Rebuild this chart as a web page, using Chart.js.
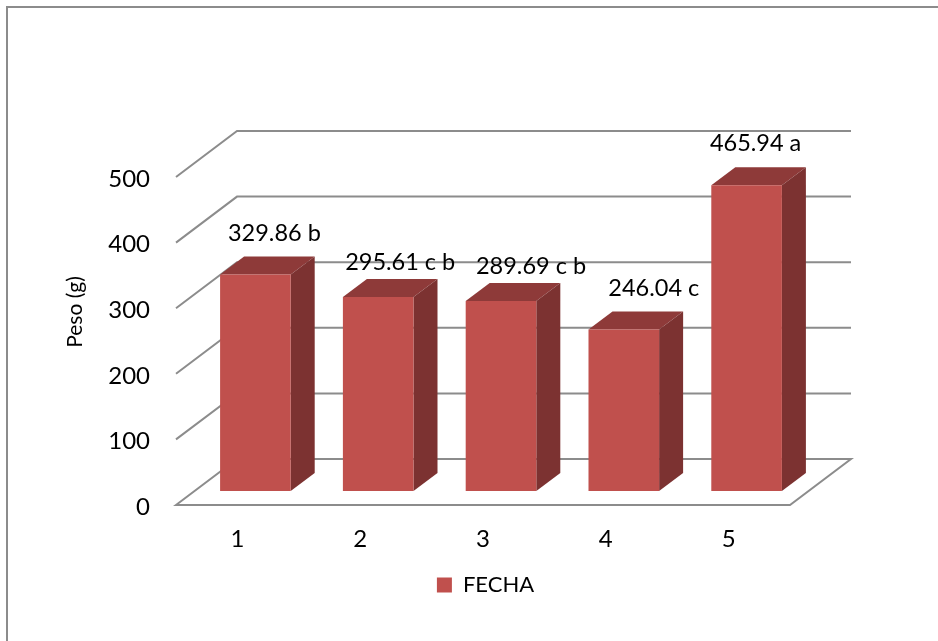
<!DOCTYPE html>
<html>
<head>
<meta charset="utf-8">
<style>
    html, body { margin: 0; padding: 0; background: #fff; overflow: hidden; }
    #frame { position: absolute; left: 6px; top: 6px; width: 960px; height: 660px; border: 2px solid #8c8c8c; }
    #peso-chart { position: absolute; left: 0; top: 0; }
</style>
<script src="https://cdn.jsdelivr.net/npm/chart.js@4/dist/chart.umd.js"></script>
</head>
<body>
<div id="frame"></div>
<canvas id="peso-chart" width="938" height="641"></canvas>
<script>
const categories = ['1', '2', '3', '4', '5'];
const peso = [329.86, 295.61, 289.69, 246.04, 465.94];
const valueLabels = ['329.86 b', '295.61 c b', '289.69 c b', '246.04 c', '465.94 a'];
const yTicks = [0, 100, 200, 300, 400, 500];

const fontFamily = 'Lato';
const gridColor = '#8c8c8c';

// depth of the fake 3d box, seen from the plane the bars stand on
const wallFront = { x: -18, y: 14 };
const wallBack = { x: 43, y: -32 };
const barDepth = { x: 24, y: -18 };

// data labels sit by hand in the original, so each one has its own shift from the bar top
const labelShiftX = [19, 22, 30, 30, 9];
const labelShiftY = [-41, -35, -35, -41, -42];

const box3d = {
    id: 'box3d',
    beforeDatasetsDraw(chart) {
        const { ctx, chartArea, scales } = chart;
        ctx.save();

        // back wall and floor
        ctx.strokeStyle = gridColor;
        ctx.lineWidth = 2;
        yTicks.forEach(function (t) {
            const y = scales.y.getPixelForValue(t);
            ctx.beginPath();
            ctx.moveTo(chartArea.left + wallFront.x, y + wallFront.y);
            ctx.lineTo(chartArea.left + wallBack.x, y + wallBack.y);
            ctx.lineTo(chartArea.right + wallBack.x, y + wallBack.y);
            if (t === 0) {
                ctx.lineTo(chartArea.right + wallFront.x, y + wallFront.y);
                ctx.closePath();
            }
            ctx.stroke();
        });

        // top and side of every bar
        chart.getDatasetMeta(0).data.forEach(function (bar) {
            const left = bar.x - bar.width / 2;
            const right = bar.x + bar.width / 2;

            ctx.fillStyle = '#8e3a39';
            ctx.beginPath();
            ctx.moveTo(left, bar.y);
            ctx.lineTo(left + barDepth.x, bar.y + barDepth.y);
            ctx.lineTo(right + barDepth.x, bar.y + barDepth.y);
            ctx.lineTo(right, bar.y);
            ctx.closePath();
            ctx.fill();

            ctx.fillStyle = '#7c3231';
            ctx.beginPath();
            ctx.moveTo(right, bar.y);
            ctx.lineTo(right + barDepth.x, bar.y + barDepth.y);
            ctx.lineTo(right + barDepth.x, bar.base + barDepth.y);
            ctx.lineTo(right, bar.base);
            ctx.closePath();
            ctx.fill();
        });
        ctx.restore();
    },
    afterDatasetsDraw(chart) {
        const { ctx } = chart;
        ctx.save();
        ctx.fillStyle = '#000';
        ctx.font = '23.5px ' + fontFamily;
        ctx.textAlign = 'center';
        ctx.textBaseline = 'middle';
        chart.getDatasetMeta(0).data.forEach(function (bar, i) {
            ctx.fillText(valueLabels[i], bar.x + labelShiftX[i], bar.y + labelShiftY[i]);
        });

        // axis title sits above the middle of the axis in the original
        ctx.font = '21px ' + fontFamily;
        ctx.translate(75, 312);
        ctx.rotate(-Math.PI / 2);
        ctx.fillText('Peso (g)', 0, 0);
        ctx.restore();
    }
};

const peso_chart = new Chart(
    document.getElementById('peso-chart').getContext('2d'), {
    type: 'bar',
    data: {
        labels: categories,
        datasets: [{
            label: 'FECHA',
            data: peso,
            backgroundColor: '#c0504d',
            categoryPercentage: 1,
            barPercentage: 0.575,
        }]
    },
    options: {
        responsive: false,
        animation: false,
        layout: {
            padding: { left: 33, right: 0, top: 163, bottom: 35 }
        },
        scales: {
            x: {
                grid: { display: false, drawTicks: false },
                border: { display: false },
                afterFit(scale) { scale.height = 73; },
                ticks: {
                    color: '#000',
                    padding: 34,
                    labelOffset: -18,
                    maxRotation: 0,
                    autoSkip: false,
                    font: { family: fontFamily, size: 24 },
                }
            },
            y: {
                min: 0,
                max: 500,
                grid: { display: false, drawTicks: false },
                border: { display: false },
                afterFit(scale) { scale.width = 161; },
                ticks: {
                    color: '#000',
                    padding: 44,
                    labelOffset: 16,
                    stepSize: 100,
                    font: { family: fontFamily, size: 24 },
                }
            },
            // empty axis, only keeps the room right of the bars
            rightGap: {
                position: 'right',
                min: 0,
                max: 500,
                grid: { display: false, drawTicks: false },
                border: { display: false },
                ticks: { display: false },
                afterFit(scale) { scale.width = 130; },
            }
        },
        plugins: {
            tooltip: { enabled: false },
            legend: {
                position: 'bottom',
                labels: {
                    color: '#000',
                    boxWidth: 15,
                    boxHeight: 15,
                    font: { family: fontFamily, size: 22 },
                }
            }
        }
    },
    plugins: [box3d]
});
</script>
</body>
</html>
